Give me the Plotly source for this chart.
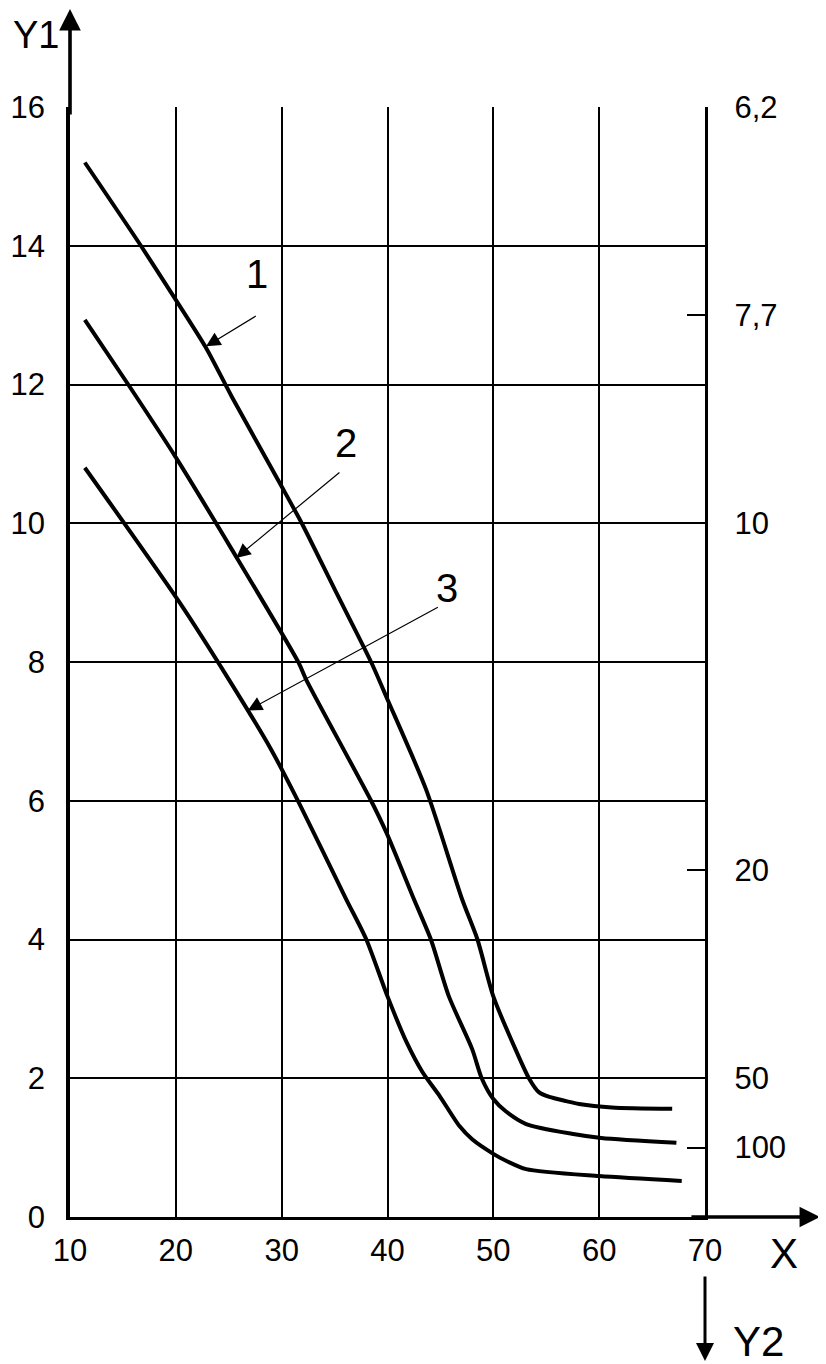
import plotly.graph_objects as go

# ---- data ----
x_ticks = [10, 20, 30, 40, 50, 60, 70]
y1_ticks = [0, 2, 4, 6, 8, 10, 12, 14, 16]
y2_tickvals = [16, 13, 10, 5, 2, 1]
y2_ticktext = ["6,2", "7,7", "10", "20", "50", "100"]

curve1_x = [11.4, 16.7, 20.0, 22.85, 25.3, 30.0, 31.9, 35.0, 38.45, 40.0, 43.65, 47.05, 48.5, 50.0, 52.2, 53.4, 54.3, 55.3, 56.9, 58.1, 61.2, 66.9]
curve1_y = [15.2, 14.0, 13.22, 12.53, 11.82, 10.53, 10.0, 9.05, 8.0, 7.46, 6.16, 4.58, 4.0, 3.18, 2.38, 1.99, 1.80, 1.73, 1.67, 1.63, 1.58, 1.56]

curve2_x = [11.4, 15.5, 20.0, 25.3, 31.6, 32.3, 38.45, 39.9, 42.5, 44.1, 45.8, 48.0, 48.9, 50.0, 51.2, 53.1, 57.4, 60.2, 67.3]
curve2_y = [12.93, 12.0, 10.95, 9.62, 7.99, 7.75, 6.0, 5.54, 4.58, 4.0, 3.18, 2.42, 2.0, 1.70, 1.52, 1.34, 1.2, 1.14, 1.07]

curve3_x = [11.4, 20.3, 25.0, 29.0, 31.6, 36.1, 38.0, 40.0, 41.8, 43.3, 44.9, 46.8, 48.0, 50.0, 51.2, 53.1, 60.0, 67.8]
curve3_y = [10.8, 8.87, 7.75, 6.74, 5.98, 4.58, 4.0, 3.18, 2.52, 2.09, 1.75, 1.31, 1.12, 0.91, 0.81, 0.69, 0.59, 0.52]

curve_labels = ["1", "2", "3"]
label_pos = [(27.7, 13.6), (36.1, 11.15), (45.6, 9.07)]
arrow_tails = [(27.7, 13.0), (35.6, 10.75), (44.9, 8.8)]
arrow_tips = [(22.85, 12.55), (25.7, 9.5), (26.8, 7.3)]

FONT = "Liberation Sans, Arial, sans-serif"

fig = go.Figure()
for xs, ys in [(curve1_x, curve1_y), (curve2_x, curve2_y), (curve3_x, curve3_y)]:
    fig.add_trace(go.Scatter(x=xs, y=ys, mode="lines",
                             line=dict(color="black", width=4, shape="spline", smoothing=0.7),
                             showlegend=False, hoverinfo="skip"))

# dummy trace on right axis so it renders
fig.add_trace(go.Scatter(x=[None], y=[None], yaxis="y2", showlegend=False))

annotations = []
for t, (lx, ly), (tx, ty), (hx, hy) in zip(curve_labels, label_pos, arrow_tails, arrow_tips):
    annotations.append(dict(x=lx, y=ly, xref="x", yref="y", text=t, showarrow=False,
                            font=dict(family=FONT, size=40, color="black")))
    annotations.append(dict(x=hx, y=hy, ax=tx, ay=ty, xref="x", yref="y", axref="x", ayref="y",
                            text="", showarrow=True, arrowhead=2, arrowsize=2.4, arrowwidth=1.2,
                            arrowcolor="black"))

# axis arrows (paper coordinates: plot area spans 635 x 1110 px)
annotations.append(dict(x=0, y=1.091, xref="paper", yref="paper", ax=0, ay=110,
                        text="", showarrow=True, arrowhead=2, arrowsize=1.2, arrowwidth=3.6,
                        arrowcolor="black"))
annotations.append(dict(x=1.181, y=0, xref="paper", yref="paper", ax=-130, ay=0,
                        text="", showarrow=True, arrowhead=2, arrowsize=1.2, arrowwidth=3.4,
                        arrowcolor="black"))
annotations.append(dict(x=1.0, y=-0.1297, xref="paper", yref="paper", ax=0, ay=-86,
                        text="", showarrow=True, arrowhead=2, arrowsize=1.2, arrowwidth=3.0,
                        arrowcolor="black"))
# axis names
for txt, px, py, fs in [("Y1", -0.053, 1.0649, 38), ("X", 1.1244, -0.0333, 42), ("Y2", 1.085, -0.1126, 42)]:
    annotations.append(dict(x=px, y=py, xref="paper", yref="paper", xanchor="center",
                            yanchor="middle", text=txt, showarrow=False,
                            font=dict(family=FONT, size=fs, color="black")))

fig.update_layout(
    width=826, height=1364,
    margin=dict(l=62, r=129, t=99, b=155, autoexpand=False),
    paper_bgcolor="white", plot_bgcolor="white",
    font=dict(family=FONT, size=31, color="black"),
    xaxis=dict(range=[10, 70], tickvals=x_ticks, showgrid=True, gridcolor="black", gridwidth=2.2,
               zeroline=False, showline=True, linecolor="black", linewidth=3.4, ticks="",
               ticklabelstandoff=4, tickfont=dict(size=31)),
    yaxis=dict(range=[0, 16], tickvals=y1_ticks, showgrid=True, gridcolor="black", gridwidth=2.2,
               zeroline=False, showline=True, linecolor="black", linewidth=3.6, ticks="",
               ticklabelstandoff=15, tickfont=dict(size=31)),
    yaxis2=dict(range=[0, 16], overlaying="y", side="right", anchor="x",
                tickvals=y2_tickvals, ticktext=y2_ticktext, ticks="inside", ticklen=18,
                tickwidth=2.2, tickcolor="black", showgrid=False, zeroline=False,
                showline=True, linecolor="black", linewidth=3.4, ticklabelstandoff=20,
                tickfont=dict(size=31)),
    annotations=annotations,
    showlegend=False,
)

fig.write_html("out.html")
